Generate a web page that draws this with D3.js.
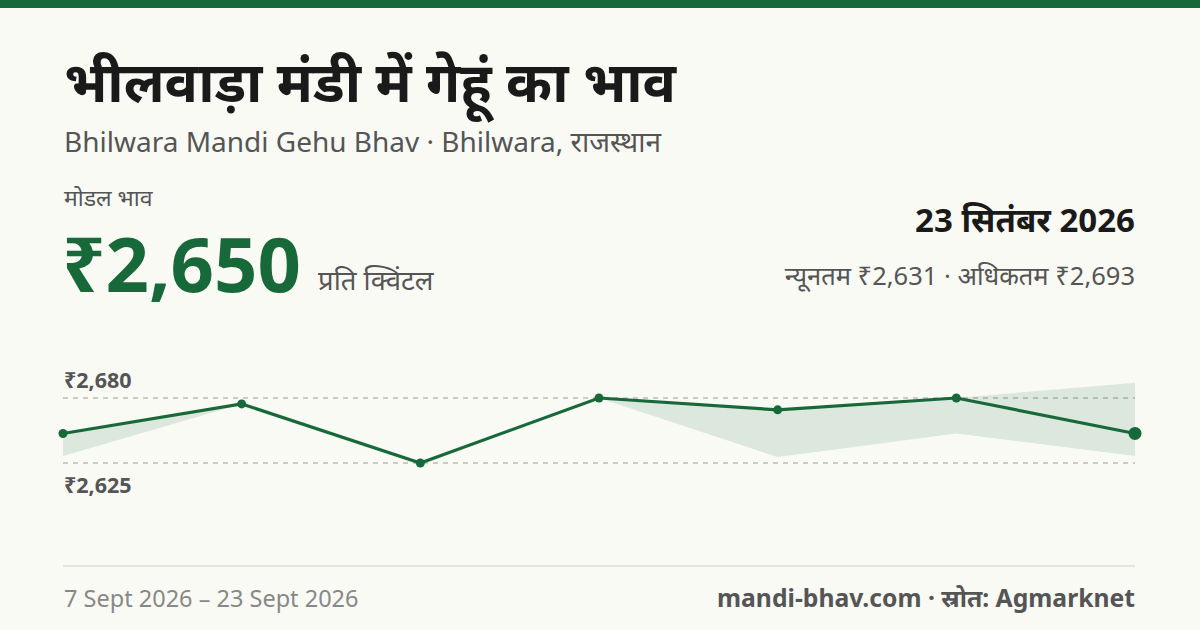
<!DOCTYPE html>
<html><head><meta charset="utf-8">
<script src="https://cdn.jsdelivr.net/npm/d3@7"></script>
<style>body{margin:0;background:#fafaf5}svg{display:block;font-family:"Noto Sans",sans-serif}</style>
</head><body><div id="chart"></div>
<script>
const dates = ["7 Sept", "9 Sept", "12 Sept", "15 Sept", "18 Sept", "20 Sept", "23 Sept"];
const modal = [2650, 2675, 2625, 2680, 2670, 2680, 2650];
const minP = [2631, 2675, 2625, 2680, 2630, 2650, 2631];
const maxP = [2650, 2675, 2625, 2680, 2670, 2680, 2693];
const yTicks = [2625, 2680];
const green = "#17693a";

const svg = d3.select("#chart").append("svg").attr("width", 1200).attr("height", 630);
svg.append("rect").attr("width", 1200).attr("height", 630).attr("fill", "#fafaf5");
svg.append("rect").attr("width", 1200).attr("height", 8).attr("fill", green);

const txt = (x, y, s, size, fill, weight, anchor) => svg.append("text")
    .attr("x", x).attr("y", y).attr("font-size", size).attr("fill", fill)
    .attr("font-weight", weight || 400).attr("text-anchor", anchor || "start").text(s);

txt(64, 102, "भीलवाड़ा मंडी में गेहूं का भाव", 55.5, "#1a1a1a", 700);
txt(64, 152, "Bhilwara Mandi Gehu Bhav · Bhilwara, राजस्थान", 28, "#555", 400);
txt(64, 206, "मोडल भाव", 23, "#555");
txt(62, 292, "₹2,650", 76, green, 700);
txt(318, 290, "प्रति क्विंटल", 27.5, "#555");
txt(1135, 232, "23 सितंबर 2026", 33, "#1a1a1a", 700, "end");
txt(1135, 285, "न्यूनतम ₹2,631 · अधिकतम ₹2,693", 25.5, "#555", 400, "end");

const x = d3.scalePoint().domain(dates).range([63, 1135]);
const y = d3.scaleLinear().domain([2625, 2680]).range([463, 398]);

svg.selectAll(".grid").data(yTicks).join("line")
    .attr("x1", 63).attr("x2", 1135).attr("y1", d => y(d)).attr("y2", d => y(d))
    .attr("stroke", "#bbb").attr("stroke-dasharray", "5,5").attr("stroke-width", 1.3);
txt(64, y(2680) - 10, "₹2,680", 21.5, "#555", 700);
txt(64, y(2625) + 30, "₹2,625", 21.5, "#555", 700);

const idx = d3.range(dates.length);
svg.append("path").datum(idx)
    .attr("d", d3.area().x(i => x(dates[i])).y0(i => y(minP[i])).y1(i => y(maxP[i])))
    .attr("fill", green).attr("fill-opacity", 0.13);
svg.append("path").datum(idx)
    .attr("d", d3.line().x(i => x(dates[i])).y(i => y(modal[i])))
    .attr("fill", "none").attr("stroke", green).attr("stroke-width", 3.2);
svg.selectAll(".pt").data(idx).join("circle")
    .attr("cx", i => x(dates[i])).attr("cy", i => y(modal[i]))
    .attr("r", i => i === dates.length - 1 ? 6.5 : 4.5).attr("fill", green);

svg.append("line").attr("x1", 63).attr("x2", 1135).attr("y1", 566).attr("y2", 566)
    .attr("stroke", "#ddd").attr("stroke-width", 1.5);
txt(64, 607, "7 Sept 2026 – 23 Sept 2026", 23.5, "#888");
txt(1135, 607, "mandi-bhav.com · स्रोत: Agmarknet", 24.7, "#555", 700, "end");
</script></body></html>
